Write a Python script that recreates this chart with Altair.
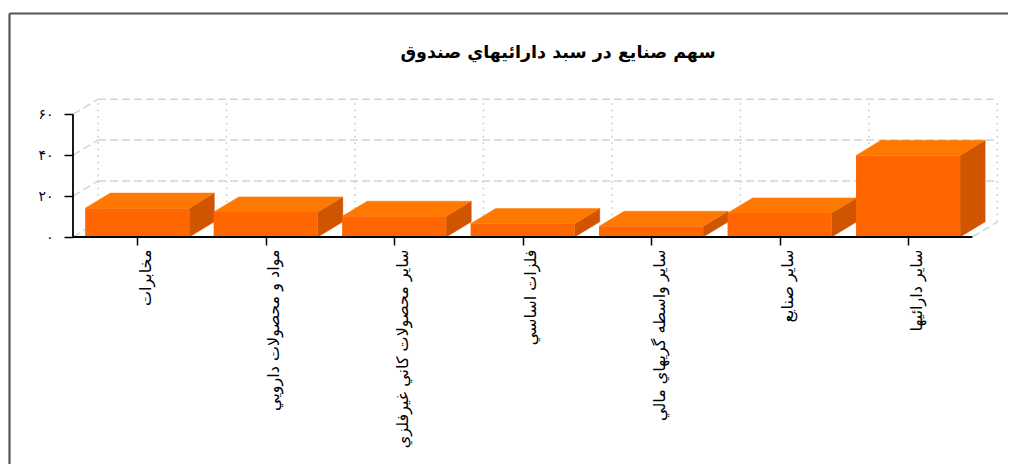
import altair as alt
import pandas as pd

# ---- data ----
categories = [
    "مخابرات",
    "مواد و محصولات دارويي",
    "ساير محصولات كاني غيرفلزي",
    "فلزات اساسي",
    "ساير واسطه گريهاي مالي",
    "ساير صنايع",
    "ساير دارائيها",
]
shares = [14.1, 12.2, 10.1, 6.5, 5.2, 11.7, 39.9]
y_ticks = [0, 20, 40, 60]
y_tick_labels = ["۰", "۲۰", "۴۰", "۶۰"]
title_text = "سهم صنايع در سبد دارائيهاي صندوق"

# ---- 3D geometry (in data units) ----
DX = 0.195   # depth offset along x
DY = 7.4     # depth offset along y
LO, HI = 0.095, 0.905
N = len(categories)
XMAX = 7.2
YMAX = 67.5

FONT = "DejaVu Sans"

front_rows, top_rows, side_rows = [], [], []
for i, (c, v) in enumerate(zip(categories, shares)):
    front_rows.append({"cat": c, "x": i + LO, "x2": i + HI, "y": 0, "y2": v})
    for k, (px, py) in enumerate([(i + LO, v), (i + HI, v), (i + HI + DX, v + DY), (i + LO + DX, v + DY)]):
        top_rows.append({"cat": c, "k": k, "x": px, "y": py})
    for k, (px, py) in enumerate([(i + HI, 0), (i + HI + DX, DY), (i + HI + DX, v + DY), (i + HI, v)]):
        side_rows.append({"cat": c, "k": k, "x": px, "y": py})

front_df = pd.DataFrame(front_rows)
top_df = pd.DataFrame(top_rows)
side_df = pd.DataFrame(side_rows)

# grid geometry
hgrid = pd.DataFrame([{"x": DX, "x2": N + DX, "y": t + DY, "y2": t + DY} for t in y_ticks[1:]])
diag = pd.DataFrame([{"x": 0, "x2": DX, "y": t, "y2": t + DY} for t in y_ticks]
                    + [{"x": N, "x2": N + DX, "y": 0, "y2": DY}])
vgrid = pd.DataFrame([{"x": i + DX, "x2": i + DX, "y": DY, "y2": y_ticks[-1] + DY} for i in range(N + 1)])
axis_lines = pd.DataFrame([
    {"x": 0, "x2": 0, "y": 0, "y2": y_ticks[-1]},
    {"x": 0, "x2": N, "y": 0, "y2": 0},
])

xscale = alt.Scale(domain=[0, XMAX], nice=False, zero=False)
yscale = alt.Scale(domain=[0, YMAX], nice=False, zero=False)

cat_js = "[" + ",".join("'" + c + "'" for c in categories) + "]"
ylab_js = "[" + ",".join("'" + s + "'" for s in y_tick_labels) + "]"

X = alt.X("x:Q", scale=xscale, title=None,
          axis=alt.Axis(values=[i + 0.5 for i in range(N)],
                        labelExpr=cat_js + "[floor(datum.value)]",
                        labelAngle=270, labelAlign="right", labelBaseline="top",
                        labelOffset=0,
                        labelFont=FONT, labelFontSize=16, labelColor="#000",
                        labelPadding=4, tickSize=8, tickColor="#000", tickWidth=1.5,
                        domain=False, grid=False, labelOverlap=False, labelLimit=400))
Y = alt.Y("y:Q", scale=yscale, title=None,
          axis=alt.Axis(values=y_ticks,
                        labelExpr=ylab_js + "[floor(datum.value/20)]",
                        labelFont=FONT, labelFontSize=14, labelColor="#000022",
                        labelPadding=11, tickSize=9, tickColor="#000", tickWidth=1.5,
                        domain=False, grid=False))

grid_h = alt.Chart(hgrid).mark_rule(color="#d4d4d4", strokeWidth=1.5, strokeDash=[8, 4]).encode(
    x=X, x2="x2:Q", y=Y, y2="y2:Q")
grid_d = alt.Chart(diag).mark_rule(color="#d4d4d4", strokeWidth=1.5, strokeDash=[8, 4]).encode(
    x=X, x2="x2:Q", y=Y, y2="y2:Q")
grid_v = alt.Chart(vgrid).mark_rule(color="#c4c4c4", strokeWidth=1.5, strokeDash=[1.5, 5]).encode(
    x=X, x2="x2:Q", y=Y, y2="y2:Q")

sides = alt.Chart(side_df).mark_line(fill="#d05500", stroke="#d05500", strokeWidth=0.5,
                                     interpolate="linear-closed").encode(
    x=X, y=Y, detail="cat:N", order="k:Q")
tops = alt.Chart(top_df).mark_line(fill="#ff7800", stroke="#ff7800", strokeWidth=0.5,
                                   interpolate="linear-closed").encode(
    x=X, y=Y, detail="cat:N", order="k:Q")
fronts = alt.Chart(front_df).mark_rect(color="#ff6600").encode(
    x=X, x2="x2:Q", y=Y, y2="y2:Q")

axes = alt.Chart(axis_lines).mark_rule(color="#000", strokeWidth=1.8).encode(
    x=X, x2="x2:Q", y=Y, y2="y2:Q")

one = pd.DataFrame({"t": [title_text]})
title_mark = alt.Chart(one).mark_text(font=FONT, fontSize=17.5, fontWeight="bold", color="#000",
                                      align="center", baseline="middle").encode(
    text="t:N", x=alt.value(485), y=alt.value(-46))
frame_top = alt.Chart(one).mark_rule(color="#555", strokeWidth=2.2).encode(
    x=alt.value(-63.5), x2=alt.value(960), y=alt.value(-85.5))
frame_left = alt.Chart(one).mark_rule(color="#555", strokeWidth=2.2).encode(
    x=alt.value(-63.5), y=alt.value(-85.5), y2=alt.value(400))

chart = alt.layer(grid_h, grid_d, grid_v, sides, tops, fronts, axes,
                  title_mark, frame_top, frame_left).properties(
    width=925, height=138,
    autosize=alt.AutoSizeParams(type="none"),
    padding={"left": 65, "top": 91, "right": 10, "bottom": 227},
).configure_view(stroke=None)

chart.save("out.html", embed_options={"renderer": "svg", "actions": False})
